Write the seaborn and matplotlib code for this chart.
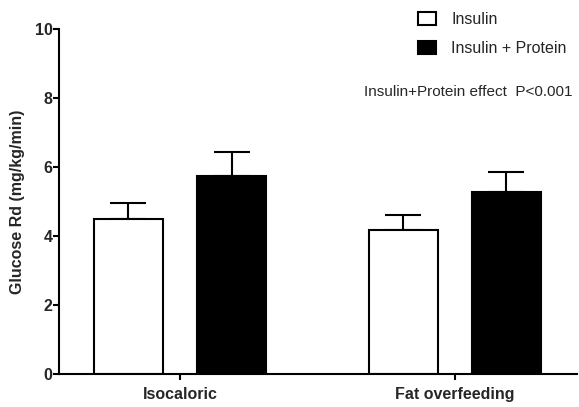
import matplotlib
matplotlib.use("Agg")
import matplotlib.pyplot as plt
import seaborn as sns
import pandas as pd

categories = ["Isocaloric", "Fat overfeeding"]
groups = ["Insulin", "Insulin + Protein"]
insulin_mean = [4.50, 4.18]
insulin_sem = [0.46, 0.44]
protein_mean = [5.76, 5.29]
protein_sem = [0.67, 0.57]
yticks = [0, 2, 4, 6, 8, 10]

sns.set_style("ticks")
plt.rcParams['font.family'] = ['Liberation Sans', 'DejaVu Sans']

df = pd.DataFrame({
    "condition": categories * 2,
    "group": [groups[0]] * 2 + [groups[1]] * 2,
    "value": insulin_mean + protein_mean,
    "sem": insulin_sem + protein_sem,
})

fig = plt.figure(figsize=(5.79, 4.07), dpi=100)
ax = fig.add_axes([59 / 579, 1 - 374.3 / 407, (576.7 - 59) / 579, (374.3 - 29.3) / 407])

sns.barplot(data=df, x="condition", y="value", hue="group", order=categories,
            hue_order=groups, palette=["white", "black"], width=0.75, gap=1/3,
            edgecolor="black", linewidth=1.5, errorbar=None, ax=ax, zorder=2)

# error bars (upper only) from the patches' positions
bars = [p for p in ax.patches if p.get_height() > 0]
bars_sorted = sorted(bars, key=lambda p: p.get_x())
sems_in_order = []
for cat_i in range(len(categories)):
    sems_in_order += [insulin_sem[cat_i], protein_sem[cat_i]]
for p, s in zip(bars_sorted, sems_in_order):
    xc = p.get_x() + p.get_width() / 2
    h = p.get_height()
    ax.errorbar([xc], [h], yerr=[[0], [s]], fmt="none", ecolor="black",
                elinewidth=1.5, capsize=13, capthick=1.5, zorder=1)

ax.set_xlim(-0.44, 1.443)
ax.set_ylim(0, 10)
ax.set_yticks(yticks)
ax.set_yticklabels([str(t) for t in yticks], fontweight="bold", fontsize=11.5)
ax.set_xticks(range(len(categories)))
ax.set_xticklabels(categories, fontweight="bold", fontsize=11.5)
ax.set_xlabel("")
ax.set_ylabel("Glucose Rd (mg/kg/min)", fontweight="bold", fontsize=11.5, labelpad=7)
ax.tick_params(axis="y", direction="out", length=4, width=1.5, color="black", pad=0.5)
ax.tick_params(axis="x", direction="out", length=4, width=1.5, color="black", pad=5)
for side in ["top", "right"]:
    ax.spines[side].set_visible(False)
for side in ["left", "bottom"]:
    ax.spines[side].set_linewidth(1.5)
    ax.spines[side].set_color("black")

handles, labels = ax.get_legend_handles_labels()
leg = ax.legend(handles, labels, loc="upper left", bbox_to_anchor=(404 / 579, 1.005),
                bbox_transform=fig.transFigure, frameon=False, fontsize=11.5,
                handlelength=1.1, handleheight=0.85, handletextpad=0.95, labelspacing=0.85)

fig.text(572 / 579, 1 - 92 / 407, "Insulin+Protein effect  P<0.001", ha="right",
         va="center", fontsize=11)

fig.savefig("out.png", dpi=100)
